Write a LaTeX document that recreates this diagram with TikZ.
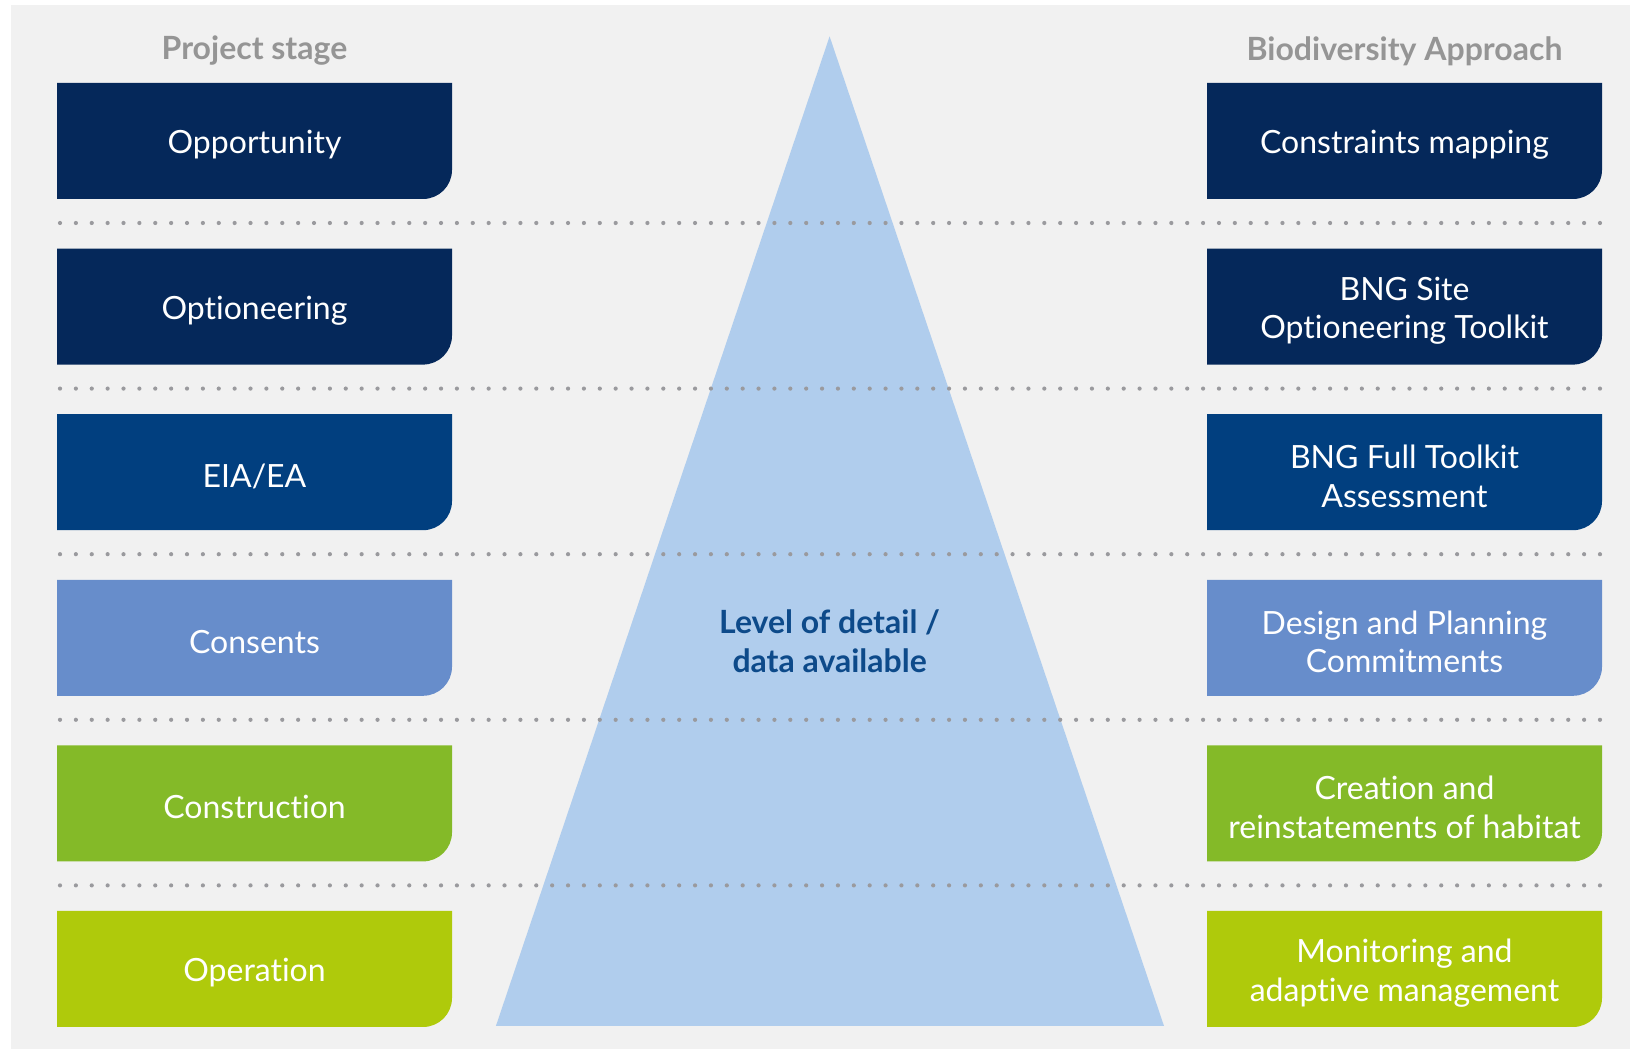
\documentclass[tikz,border=0pt]{standalone}
\usepackage{fontspec}
\setmainfont{Lato}[Ligatures=NoCommon]
\definecolor{bgcol}{HTML}{F1F1F1}
\definecolor{tricol}{HTML}{B0CDED}
\definecolor{dotcol}{HTML}{9A9A9E}
\definecolor{titlecol}{HTML}{959595}
\definecolor{navy}{HTML}{05285A}
\definecolor{midblue}{HTML}{013F7F}
\definecolor{softblue}{HTML}{678DCB}
\definecolor{green}{HTML}{84BA28}
\definecolor{lime}{HTML}{AFCA0B}
\definecolor{labelblue}{HTML}{0D4A8A}
\tikzset{
  boxtext/.style={text=white, align=center, font=\fontsize{32}{38.5}\selectfont, inner sep=0pt},
  headtext/.style={text=titlecol, font=\bfseries\fontsize{32}{36}\selectfont, inner sep=0pt},
  centertext/.style={text=labelblue, align=center, font=\bfseries\fontsize{32}{38.5}\selectfont, inner sep=0pt}
}
\newcommand\bnbox[5]{%
  \pgfmathsetmacro\yt{966-165.6*#3}%
  \pgfmathsetmacro\yb{\yt-116}%
  \pgfmathsetmacro\xr{#2+395}%
  \fill[#4] (#2,\yt) -- (\xr,\yt) -- (\xr,\yb+29) arc[start angle=0,end angle=-90,radius=29] -- (#2,\yb) -- cycle;
  \node[boxtext] (#1) at ({#2+197.5},{\yt-62}) {#5};
}
\begin{document}
\begin{tikzpicture}[x=1pt,y=1pt]
\useasboundingbox (0,0) rectangle (1630,1049);
\fill[bgcol] (11,0) rectangle (1630,1044);
\fill[tricol] (495.9,23) -- (829.6,1012.6) -- (1164,23) -- cycle;
\foreach \k in {0,...,4}{
  \pgfmathsetmacro\yy{1049-223-165.6*\k}
  \foreach \i in {0,...,97}{
    \fill[dotcol] ({60+15.876*\i},\yy) circle (2.1);
  }
}
\node[headtext] (hl) at (254.5,998) {Project stage};
\node[headtext] (hr) at (1404.5,998) {Biodiversity Approach};
\bnbox{l1}{57}{0}{navy}{Opportunity}
\bnbox{l2}{57}{1}{navy}{Optioneering}
\bnbox{l3}{57}{2}{midblue}{EIA/EA}
\bnbox{l4}{57}{3}{softblue}{Consents}
\bnbox{l5}{57}{4}{green}{Construction}
\bnbox{l6}{57}{5}{lime}{Operation}
\bnbox{r1}{1207}{0}{navy}{Constraints mapping}
\bnbox{r2}{1207}{1}{navy}{BNG Site\\Optioneering Toolkit}
\bnbox{r3}{1207}{2}{midblue}{BNG Full Toolkit\\Assessment}
\bnbox{r4}{1207}{3}{softblue}{Design and Planning\\Commitments}
\bnbox{r5}{1207}{4}{green}{Creation and\\reinstatements of habitat}
\bnbox{r6}{1207}{5}{lime}{Monitoring and\\adaptive management}
\node[centertext] (lvl) at (829.6,408) {Level of detail /\\data available};
\end{tikzpicture}
\end{document}
